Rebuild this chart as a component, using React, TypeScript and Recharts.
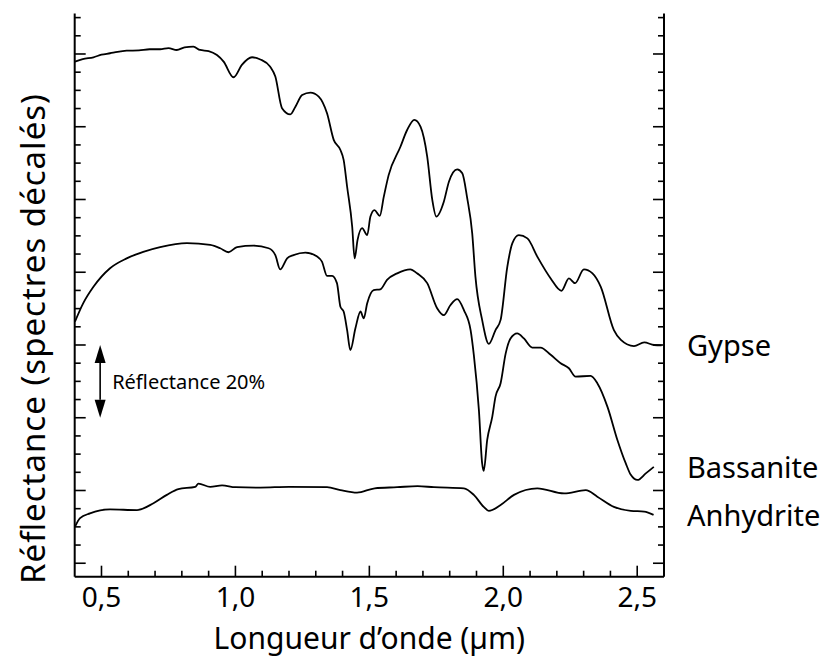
import { LineChart, Line, XAxis, YAxis, ReferenceLine } from "recharts";

const FONT = "'Noto Sans', sans-serif";

// Spectres (longueur d'onde en µm, réflectance décalée en %)
const gypseWavelength = [
  0.401, 0.43, 0.47, 0.5, 0.532, 0.56, 0.594, 0.64, 0.68, 0.719, 0.75, 0.781, 0.81, 0.843, 0.868, 0.9, 0.931,
  0.956, 0.993, 1.024, 1.062, 1.093, 1.13, 1.149, 1.174, 1.205, 1.224, 1.249, 1.28, 1.311, 1.342, 1.367, 1.392,
  1.404, 1.417, 1.436, 1.445, 1.456, 1.473, 1.492, 1.504, 1.519, 1.539, 1.554, 1.572, 1.616, 1.641, 1.668, 1.691,
  1.716, 1.735, 1.75, 1.778, 1.797, 1.828, 1.847, 1.865, 1.884, 1.896, 1.921, 1.946, 1.971, 1.99, 2.015, 2.034,
  2.058, 2.09, 2.127, 2.177, 2.217, 2.245, 2.268, 2.301, 2.333, 2.364, 2.413, 2.439, 2.488, 2.526, 2.563, 2.591,
];
const gypseReflectance = [
  137.9, 138.6, 139.1, 139.8, 140.2, 140.6, 140.9, 141.0, 141.3, 141.3, 141.6, 141.1, 141.8, 142.0, 141.1, 140.8, 139.7,
  137.9, 133.6, 137.0, 139.1, 138.5, 136.5, 133.8, 125.1, 123.4, 125.5, 128.7, 129.4, 128.3, 123.7, 116.4, 113.6,
  110.9, 103.5, 92.5, 83.8, 88.9, 92.1, 90.2, 95.3, 97.1, 95.5, 100.8, 106.7, 114.5, 119.1, 121.9, 120.0,
  111.8, 99.9, 95.3, 99.4, 104.9, 108.3, 107.2, 100.5, 90.7, 78.8, 66.9, 60.3, 64.1, 66.9, 81.5, 88.0,
  90.2, 89.3, 84.3, 78.3, 74.9, 78.3, 77.0, 80.8, 79.7, 76.0, 64.1, 61.4, 59.7, 60.7, 60.0, 59.9,
];

const bassaniteWavelength = [
  0.401, 0.432, 0.47, 0.532, 0.594, 0.656, 0.719, 0.819, 0.906, 0.943, 0.974, 1.006, 1.068, 1.124, 1.149, 1.167,
  1.193, 1.217, 1.261, 1.305, 1.323, 1.342, 1.361, 1.379, 1.392, 1.404, 1.417, 1.429, 1.448, 1.467, 1.479, 1.492,
  1.516, 1.541, 1.566, 1.604, 1.653, 1.678, 1.716, 1.753, 1.778, 1.803, 1.828, 1.853, 1.878, 1.89, 1.909, 1.921,
  1.927, 1.94, 1.959, 1.971, 1.99, 2.009, 2.027, 2.052, 2.077, 2.108, 2.139, 2.177, 2.214, 2.245, 2.27, 2.326,
  2.351, 2.389, 2.426, 2.457, 2.476, 2.501, 2.532, 2.562,
];
const bassaniteReflectance = [
  66.4, 71.5, 76.0, 81.1, 83.8, 85.6, 86.9, 88.0, 87.5, 86.6, 85.5, 86.9, 87.3, 86.6, 84.7, 80.8,
  83.8, 84.7, 85.4, 84.3, 82.9, 79.0, 79.0, 77.0, 70.5, 69.2, 64.1, 58.6, 64.6, 69.2, 67.3, 71.5,
  75.1, 75.3, 77.9, 79.7, 80.8, 79.7, 77.0, 70.1, 68.2, 71.0, 72.6, 69.6, 64.1, 57.3, 42.1, 27.5,
  25.4, 33.9, 40.3, 45.8, 49.5, 57.7, 61.8, 63.2, 61.8, 59.3, 59.3, 57.3, 55.0, 53.6, 51.3, 51.5,
  49.5, 43.0, 33.9, 27.5, 24.3, 22.9, 24.7, 26.5,
];

const anhydriteWavelength = [
  0.401, 0.42, 0.457, 0.532, 0.632, 0.694, 0.744, 0.787, 0.85, 0.862, 0.906, 0.95, 1.0, 1.093, 1.2, 1.342, 1.392,
  1.454, 1.52, 1.604, 1.68, 1.741, 1.853, 1.89, 1.927, 1.946, 1.99, 2.04, 2.127, 2.227, 2.308, 2.351, 2.413,
  2.476, 2.526, 2.561,
];
const anhydriteReflectance = [
  10.0, 12.4, 13.7, 14.8, 14.6, 16.5, 18.8, 20.4, 21.0, 21.9, 21.0, 21.4, 20.9, 20.8, 21.0, 20.9, 20.1,
  19.4, 20.6, 20.9, 21.2, 20.9, 20.6, 18.8, 15.5, 14.4, 16.0, 18.8, 20.6, 19.2, 20.1, 18.3, 15.5,
  14.4, 14.2, 13.3,
];

const seriesNames = ["Gypse", "Bassanite", "Anhydrite"];

// échelle de la flèche : 20 % de réflectance
const arrowWavelength = 0.495;
const arrowRange = [40, 60];
const arrowText = "Réflectance 20%";

const xTicks = [
  0.4, 0.5, 0.6, 0.7, 0.8, 0.9, 1.0, 1.1, 1.2, 1.3, 1.4, 1.5, 1.6, 1.7, 1.8, 1.9, 2.0, 2.1, 2.2, 2.3, 2.4, 2.5, 2.6,
];
const yTicks = [
  0, 5, 10, 15, 20, 25, 30, 35, 40, 45, 50, 55, 60, 65, 70, 75, 80, 85, 90, 95, 100, 105, 110, 115, 120, 125, 130,
  135, 140, 145, 150,
];

const toPoints = (xs: number[], ys: number[]) => xs.map((x, i) => ({ x, y: ys[i] }));

const PLOT_RIGHT = 656;
const MAJOR = 11;
const MINOR = 6;

const isMajorX = (v: number) => Math.abs(v * 2 - Math.round(v * 2)) < 1e-6;
const isMajorY = (v: number) => Math.round(v) % 20 === 0;

function BottomTick({ x, y, payload }: any) {
  const major = isMajorX(payload.value);
  const inside = payload.value > 0.45 && payload.value < 2.55;
  return (
    <g>
      {inside && <line x1={x} x2={x} y1={y} y2={y - (major ? MAJOR : MINOR)} stroke="#000" strokeWidth={1.6} />}
      {major && inside && (
        <text x={x} y={y + 30.5} textAnchor="middle" fontSize={28} fontFamily={FONT} fill="#000">
          {payload.value.toFixed(1).replace(".", ",")}
        </text>
      )}
    </g>
  );
}

function TopTick({ x, y, payload }: any) {
  const major = isMajorX(payload.value);
  if (payload.value < 0.45 || payload.value > 2.55) return null;
  return <line x1={x} x2={x} y1={y} y2={y + (major ? MAJOR : MINOR)} stroke="#000" strokeWidth={1.6} />;
}

function LeftTick({ x, y, payload }: any) {
  const major = isMajorY(payload.value);
  return <line x1={x} x2={x + (major ? MAJOR : MINOR)} y1={y} y2={y} stroke="#000" strokeWidth={1.6} />;
}

function RightTick({ x, y, payload }: any) {
  const major = isMajorY(payload.value);
  return <line x1={x} x2={x - (major ? MAJOR : MINOR)} y1={y} y2={y} stroke="#000" strokeWidth={1.6} />;
}

function ArrowShape(props: any) {
  const { x1, y1, x2, y2 } = props;
  const top = Math.min(y1, y2);
  const bottom = Math.max(y1, y2);
  const x = x1;
  const head = 18;
  const half = 5.5;
  return (
    <g>
      <line x1={x} x2={x2} y1={top + head} y2={bottom - head} stroke="#000" strokeWidth={1.6} />
      <polygon points={`${x},${top} ${x - half},${top + head} ${x + half},${top + head}`} fill="#000" />
      <polygon points={`${x},${bottom} ${x - half},${bottom - head} ${x + half},${bottom - head}`} fill="#000" />
      <text x={x + 12} y={(top + bottom) / 2 + 7.5} fontSize={20} fontFamily={FONT} fill="#000">
        {arrowText}
      </text>
    </g>
  );
}

const endLabel = (name: string, count: number) => (props: any) => {
  if (props.index !== count - 1) return null;
  return (
    <text x={PLOT_RIGHT + 23} y={props.y + 11} fontSize={29} fontFamily={FONT} fill="#000">
      {name}
    </text>
  );
};

export default function App() {
  const series = [
    toPoints(gypseWavelength, gypseReflectance),
    toPoints(bassaniteWavelength, bassaniteReflectance),
    toPoints(anhydriteWavelength, anhydriteReflectance),
  ];

  return (
    <LineChart width={821} height={649} margin={{ top: 5.5, right: 0, bottom: 0, left: 0 }}>
      <XAxis
        xAxisId="bottom"
        type="number"
        dataKey="x"
        domain={[0.4, 2.6]}
        allowDataOverflow
        ticks={xTicks}
        interval={0}
        height={80.3}
        tickSize={0}
        tickMargin={0}
        tickLine={false}
        axisLine={{ stroke: "#000", strokeWidth: 2 }}
        tick={<BottomTick />}
        label={{
          value: "Longueur d’onde (µm)",
          position: "insideBottom",
          offset: 8,
          fontSize: 30,
          fontFamily: FONT,
          fill: "#000",
        }}
      />
      <XAxis
        xAxisId="top"
        orientation="top"
        type="number"
        dataKey="x"
        domain={[0.4, 2.6]}
        allowDataOverflow
        ticks={xTicks}
        interval={0}
        height={0}
        tickSize={0}
        tickMargin={0}
        tickLine={false}
        axisLine={{ stroke: "#000", strokeWidth: 2 }}
        tick={<TopTick />}
      />
      <YAxis
        yAxisId="left"
        type="number"
        domain={[-3.7, 151.13]}
        allowDataOverflow
        ticks={yTicks}
        interval={0}
        width={66.7}
        tickSize={0}
        tickMargin={0}
        tickLine={false}
        axisLine={{ stroke: "#000", strokeWidth: 2 }}
        tick={<LeftTick />}
        label={{
          content: () => (
            <text
              transform="translate(37, 331) rotate(-90)"
              textAnchor="middle"
              fontSize={33}
              textLength={490}
              lengthAdjust="spacing"
              fontFamily={FONT}
              fill="#000"
            >
              Réflectance (spectres décalés)
            </text>
          ),
        }}
      />
      <YAxis
        yAxisId="right"
        orientation="right"
        type="number"
        domain={[-3.7, 151.13]}
        allowDataOverflow
        ticks={yTicks}
        interval={0}
        width={165}
        tickSize={0}
        tickMargin={0}
        tickLine={false}
        axisLine={{ stroke: "#000", strokeWidth: 2 }}
        tick={<RightTick />}
      />
      {series.map((pts, i) => (
        <Line
          key={seriesNames[i]}
          xAxisId="bottom"
          yAxisId="left"
          data={pts}
          dataKey="y"
          type="monotone"
          stroke="#000"
          strokeWidth={1.8}
          dot={false}
          activeDot={false}
          isAnimationActive={false}
          label={endLabel(seriesNames[i], pts.length)}
        />
      ))}
      <ReferenceLine
        xAxisId="bottom"
        yAxisId="left"
        segment={[
          { x: arrowWavelength, y: arrowRange[0] },
          { x: arrowWavelength, y: arrowRange[1] },
        ]}
        shape={ArrowShape}
      />
    </LineChart>
  );
}
